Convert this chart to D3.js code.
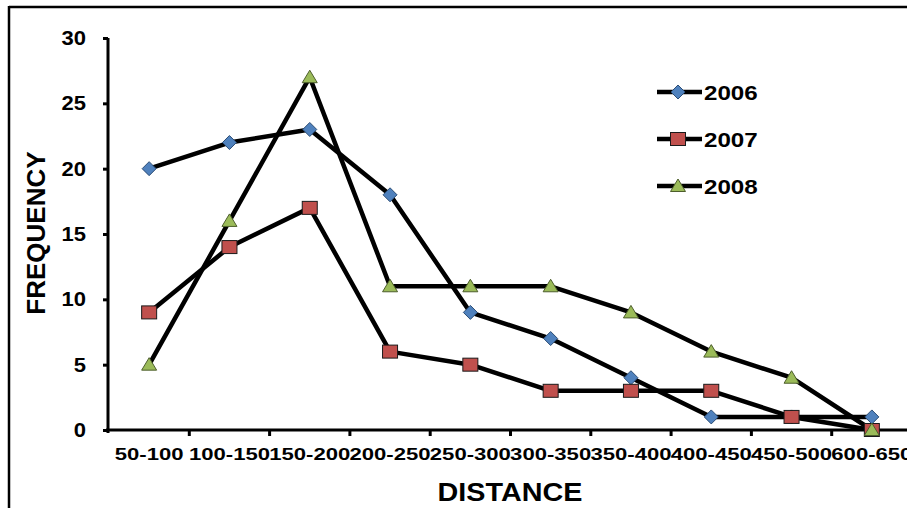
<!doctype html>
<html lang="en">
<head>
<meta charset="UTF-8">
<title>Frequency by distance</title>
<style>
  body { margin: 0; background: #fff; }
  svg text { font-family: Arial, "Liberation Sans", sans-serif; font-weight: bold; fill: #000; }
</style>
</head>
<body>
<svg id="chart" width="907" height="508"></svg>
<script src="https://d3js.org/d3.v7.min.js"></script>
<script>
    const categories = ["50-100", "100-150", "150-200", "200-250", "250-300",
        "300-350", "350-400", "400-450", "450-500", "600-650"];
    const years = ["2006", "2007", "2008"];
    const values2006 = [20, 22, 23, 18, 9, 7, 4, 1, 1, 1];
    const values2007 = [9, 14, 17, 6, 5, 3, 3, 3, 1, 0];
    const values2008 = [5, 16, 27, 11, 11, 11, 9, 6, 4, 0];
    const yTicks = [0, 5, 10, 15, 20, 25, 30];

    const seriesList = [
        {name: years[0], values: values2006, color: "#4F81BD", stroke: "#2c4d75", shape: "diamond"},
        {name: years[1], values: values2007, color: "#C0504D", stroke: "#1a1a1a", shape: "square"},
        {name: years[2], values: values2008, color: "#9BBB59", stroke: "#4d5e2c", shape: "triangle"}
    ];

    const svg = d3.select("#chart");

    const x = d3.scaleBand()
        .domain(categories)
        .range([109, 912]);

    const y = d3.scaleLinear()
        .domain([0, 30])
        .range([430, 38]);

    // outer frame (only the top and left edges are visible)
    svg.append("line").attr("x1", 9).attr("x2", 907).attr("y1", 7).attr("y2", 7)
        .attr("stroke", "#000").attr("stroke-width", 2.5);
    svg.append("line").attr("x1", 9).attr("x2", 9).attr("y1", 6).attr("y2", 508)
        .attr("stroke", "#000").attr("stroke-width", 2.5);

    // y axis
    const yAxis = svg.append("g")
        .attr("transform", "translate(108,0)")
        .call(d3.axisLeft(y).tickValues(yTicks).tickSize(5).tickPadding(15));
    yAxis.select(".domain").attr("stroke", "#000").attr("stroke-width", 3)
        .attr("d", "M0," + y(30) + "V" + (y(0) + 3));
    yAxis.selectAll(".tick line").attr("stroke", "#000").attr("stroke-width", 3);
    yAxis.selectAll(".tick text").attr("font-size", "20px")
        .attr("transform", "scale(1.1,1)");

    // x axis
    const xAxis = svg.append("g")
        .attr("transform", "translate(0," + y(0) + ")")
        .call(d3.axisBottom(x).tickSize(0).tickPadding(18));
    xAxis.select(".domain").attr("stroke", "#000").attr("stroke-width", 3)
        .attr("d", "M106,0H907");
    // labels are stretched sideways, as in the original picture
    xAxis.selectAll(".tick")
        .each(function() {
            const g = d3.select(this);
            const cx = +g.attr("transform").match(/translate\(([-\d.]+)/)[1];
            g.select("text").attr("font-size", "16.5px")
                .attr("transform", "translate(" + 0 + ",0) scale(1.34,1)");
        });
    // boundary tick marks
    svg.append("g").selectAll("line")
        .data(categories.slice(1))
        .join("line")
        .attr("x1", d => x(d)).attr("x2", d => x(d))
        .attr("y1", y(0)).attr("y2", y(0) + 6)
        .attr("stroke", "#000").attr("stroke-width", 3);

    // axis titles
    svg.append("text")
        .attr("transform", "translate(510,501) scale(1.15,1)")
        .attr("text-anchor", "middle")
        .attr("font-size", "25px")
        .text("DISTANCE");
    svg.append("text")
        .attr("transform", "translate(45,233) rotate(-90)")
        .attr("text-anchor", "middle")
        .attr("font-size", "26px")
        .text("FREQUENCY");

    function marker(sel, shape) {
        if (shape === "diamond") {
            sel.append("path").attr("d", "M0,-7L7,0L0,7L-7,0Z");
        } else if (shape === "square") {
            sel.append("rect").attr("x", -7.5).attr("y", -6.5).attr("width", 15).attr("height", 13);
        } else {
            sel.append("path").attr("d", "M0,-7L7.5,5.5L-7.5,5.5Z");
        }
    }

    const line = d3.line()
        .x((d, i) => x(categories[i]) + x.bandwidth() / 2)
        .y(d => y(d));

    // lines
    svg.append("g").selectAll("path")
        .data(seriesList)
        .join("path")
        .attr("d", s => line(s.values))
        .attr("fill", "none")
        .attr("stroke", "#000")
        .attr("stroke-width", 4.5)
        .attr("stroke-linejoin", "round");

    // markers
    seriesList.forEach(function(s) {
        svg.append("g").selectAll("g")
            .data(s.values)
            .join("g")
            .attr("transform", (d, i) => "translate(" + (x(categories[i]) + x.bandwidth() / 2) + "," + y(d) + ")")
            .each(function() { marker(d3.select(this), s.shape); })
            .selectAll("path, rect")
            .attr("fill", s.color)
            .attr("stroke", s.stroke)
            .attr("stroke-width", 1);
    });

    // legend
    const legend = svg.append("g")
        .selectAll("g")
        .data(seriesList)
        .join("g")
        .attr("transform", (s, i) => "translate(657," + (92 + i * 47) + ")");
    legend.append("line")
        .attr("x1", 0).attr("x2", 45)
        .attr("stroke", "#000").attr("stroke-width", 4.5);
    legend.each(function(s) {
        const m = d3.select(this).append("g").attr("transform", "translate(21,0)");
        marker(m, s.shape);
        m.selectAll("path, rect").attr("fill", s.color).attr("stroke", s.stroke).attr("stroke-width", 1);
    });
    legend.append("text")
        .attr("transform", "translate(47,8) scale(1.15,1)")
        .attr("font-size", "21px")
        .text(s => s.name);
</script>
</body>
</html>
